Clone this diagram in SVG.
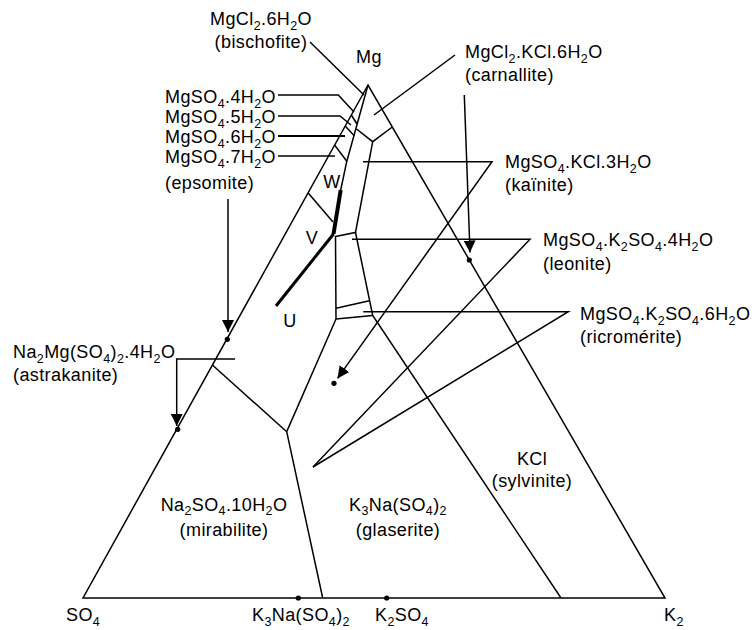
<svg xmlns="http://www.w3.org/2000/svg" width="755" height="630" viewBox="0 0 755 630">
<style>
text{font-family:"Liberation Sans",Arial,sans-serif;font-size:18px;fill:#000;letter-spacing:0.4px}
.s{font-size:12.5px}
.m{text-anchor:middle}
.ln{fill:none;stroke:#000;stroke-width:1.5;stroke-linejoin:miter}
.thick{fill:none;stroke:#000;stroke-width:4}
.med{fill:none;stroke:#000;stroke-width:3}
.dot{fill:#000}
</style>
<defs>
<marker id="ah" markerUnits="userSpaceOnUse" viewBox="0 0 12 12" markerWidth="12" markerHeight="12" refX="12" refY="6" orient="auto">
<path d="M0,0 L12,6 L0,12 z" fill="#000"/>
</marker>
</defs>
<rect width="755" height="630" fill="#fff"/>
<g id="diagram-lines">
<path class="ln" d="M368,85 L83,598 L665,598 Z"/>
<path class="ln" d="M368,85 L346.7,161.7 L340.7,190"/>
<path class="ln" d="M351.3,115 L357,124"/>
<path class="ln" d="M345.2,126 L354,135.5"/>
<path class="ln" d="M334.6,145 L347,161.5"/>
<path class="ln" d="M308.2,193 L333,222"/>
<path class="ln" d="M356.5,129 L372.7,141.7 L392.3,127"/>
<path class="ln" d="M372.7,141.7 L355.5,232.5"/>
<path class="ln" d="M335.5,236.5 L355.5,232.5 L372.7,315.5 L561,598"/>
<path class="ln" d="M335.5,236 L336,319"/>
<path class="ln" d="M336,308.3 L369.5,300.7"/>
<path class="ln" d="M336,319 L372.7,315.5"/>
<path class="ln" d="M336,319 L286.7,431.7 L322.7,598"/>
<path class="ln" d="M286.7,431.7 L212.4,365"/>
<path class="thick" d="M340.7,190 L333.5,234"/>
<path class="med" d="M333.5,234 L276,306"/>
</g>
<g id="connectors">
<path class="ln" d="M310,42 L364,95"/>
<path class="ln" d="M278,95 L338.3,95 L354,112"/>
<path class="ln" d="M278,116 L340,116 L351,125"/>
<path class="ln" d="M278,136 L345,136" style="stroke-width:2"/>
<path class="ln" d="M278,156 L335,156"/>
<path class="ln" d="M228,199 L228,332" marker-end="url(#ah)"/>
<path class="ln" d="M235,359 L176.7,359 L176.7,426" marker-end="url(#ah)"/>
<path class="ln" d="M455,55 L374,115"/>
<path class="ln" d="M464.3,95 L470,252.5" marker-end="url(#ah)"/>
<path class="ln" d="M363,161.7 L492,161.7 L337.5,378.4" marker-end="url(#ah)"/>
<path class="ln" d="M352,239.3 L530,239.3 L313,467"/>
<path class="ln" d="M363.3,311.7 L568.3,311.7 L313,467"/>
<circle class="dot" cx="227.3" cy="339.3" r="2.6"/>
<circle class="dot" cx="177.7" cy="429.3" r="2.6"/>
<circle class="dot" cx="469.3" cy="260" r="2.6"/>
<circle class="dot" cx="334" cy="383.3" r="2.6"/>
<circle class="dot" cx="298.3" cy="598" r="2.6"/>
<circle class="dot" cx="386.7" cy="598" r="2.6"/>
</g>
<g id="label-mg"><text class="m" x="369" y="63">Mg</text></g>
<g id="label-bischofite">
<text class="m" x="261" y="25">MgCl<tspan class="s" dy="5">2</tspan><tspan dy="-5">.6H</tspan><tspan class="s" dy="5">2</tspan><tspan dy="-5">O</tspan></text>
<text class="m" x="261" y="48">(bischofite)</text>
</g>
<g id="label-mgso4-4">
<text x="165" y="103">MgSO<tspan class="s" dy="5">4</tspan><tspan dy="-5">.4H</tspan><tspan class="s" dy="5">2</tspan><tspan dy="-5">O</tspan></text>
</g>
<g id="label-mgso4-5">
<text x="165" y="123">MgSO<tspan class="s" dy="5">4</tspan><tspan dy="-5">.5H</tspan><tspan class="s" dy="5">2</tspan><tspan dy="-5">O</tspan></text>
</g>
<g id="label-mgso4-6">
<text x="165" y="143">MgSO<tspan class="s" dy="5">4</tspan><tspan dy="-5">.6H</tspan><tspan class="s" dy="5">2</tspan><tspan dy="-5">O</tspan></text>
</g>
<g id="label-epsomite">
<text x="165" y="163">MgSO<tspan class="s" dy="5">4</tspan><tspan dy="-5">.7H</tspan><tspan class="s" dy="5">2</tspan><tspan dy="-5">O</tspan></text>
<text x="165" y="189">(epsomite)</text>
</g>
<g id="label-astrakanite">
<text x="13" y="358">Na<tspan class="s" dy="5">2</tspan><tspan dy="-5">Mg(SO</tspan><tspan class="s" dy="5">4</tspan><tspan dy="-5">)</tspan><tspan class="s" dy="5">2</tspan><tspan dy="-5">.4H</tspan><tspan class="s" dy="5">2</tspan><tspan dy="-5">O</tspan></text>
<text x="13" y="381">(astrakanite)</text>
</g>
<g id="label-carnallite">
<text x="465" y="58">MgCl<tspan class="s" dy="5">2</tspan><tspan dy="-5">.KCl.6H</tspan><tspan class="s" dy="5">2</tspan><tspan dy="-5">O</tspan></text>
<text x="465" y="81">(carnallite)</text>
</g>
<g id="label-kainite">
<text x="505" y="168">MgSO<tspan class="s" dy="5">4</tspan><tspan dy="-5">.KCl.3H</tspan><tspan class="s" dy="5">2</tspan><tspan dy="-5">O</tspan></text>
<text x="505" y="191">(kaïnite)</text>
</g>
<g id="label-leonite">
<text x="543" y="246">MgSO<tspan class="s" dy="5">4</tspan><tspan dy="-5">.K</tspan><tspan class="s" dy="5">2</tspan><tspan dy="-5">SO</tspan><tspan class="s" dy="5">4</tspan><tspan dy="-5">.4H</tspan><tspan class="s" dy="5">2</tspan><tspan dy="-5">O</tspan></text>
<text x="543" y="270">(leonite)</text>
</g>
<g id="label-ricromerite">
<text x="580" y="320">MgSO<tspan class="s" dy="5">4</tspan><tspan dy="-5">.K</tspan><tspan class="s" dy="5">2</tspan><tspan dy="-5">SO</tspan><tspan class="s" dy="5">4</tspan><tspan dy="-5">.6H</tspan><tspan class="s" dy="5">2</tspan><tspan dy="-5">O</tspan></text>
<text x="580" y="343">(ricromérite)</text>
</g>
<g id="label-W"><text class="m" x="332" y="188">W</text></g>
<g id="label-V"><text class="m" x="312" y="244">V</text></g>
<g id="label-U"><text class="m" x="290" y="327">U</text></g>
<g id="label-kcl">
<text class="m" x="532" y="465">KCl</text>
<text class="m" x="532" y="487">(sylvinite)</text>
</g>
<g id="label-mirabilite">
<text class="m" x="224" y="511">Na<tspan class="s" dy="4">2</tspan><tspan dy="-4">SO</tspan><tspan class="s" dy="4">4</tspan><tspan dy="-4">.10H</tspan><tspan class="s" dy="4">2</tspan><tspan dy="-4">O</tspan></text>
<text class="m" x="224" y="536">(mirabilite)</text>
</g>
<g id="label-glaserite">
<text class="m" x="398" y="511">K<tspan class="s" dy="4">3</tspan><tspan dy="-4">Na(SO</tspan><tspan class="s" dy="4">4</tspan><tspan dy="-4">)</tspan><tspan class="s" dy="4">2</tspan></text>
<text class="m" x="398" y="536">(glaserite)</text>
</g>
<g id="label-so4"><text x="66" y="621">SO<tspan class="s" dy="5">4</tspan></text></g>
<g id="label-k3na"><text x="252" y="621">K<tspan class="s" dy="5">3</tspan><tspan dy="-5">Na(SO</tspan><tspan class="s" dy="5">4</tspan><tspan dy="-5">)</tspan><tspan class="s" dy="5">2</tspan></text></g>
<g id="label-k2so4"><text x="375" y="621">K<tspan class="s" dy="5">2</tspan><tspan dy="-5">SO</tspan><tspan class="s" dy="5">4</tspan></text></g>
<g id="label-k2"><text x="664" y="621">K<tspan class="s" dy="5">2</tspan></text></g>
</svg>
